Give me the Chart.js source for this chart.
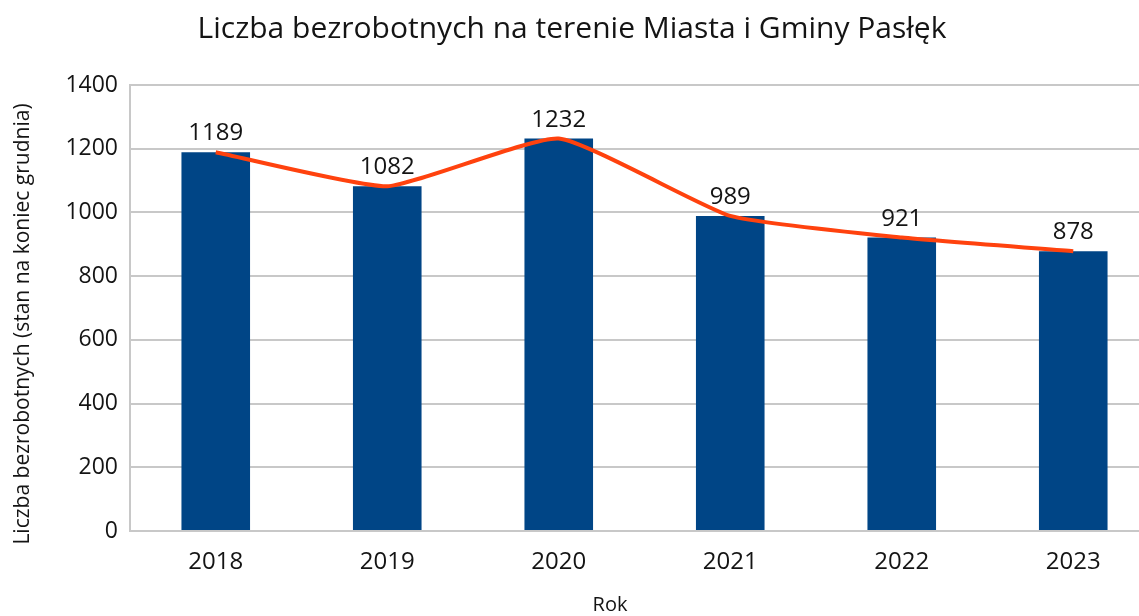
<!DOCTYPE html>
<html>
<head>
<meta charset="utf-8">
<script src="https://cdn.jsdelivr.net/npm/chart.js@4"></script>
<style>
  body { margin: 0; overflow: hidden; background: #fff; }
  #wrap { width: 1160px; height: 616px; }
</style>
</head>
<body>
<div id="wrap"><canvas id="wykres" width="1160" height="616"></canvas></div>
<script>
const lata = ['2018', '2019', '2020', '2021', '2022', '2023'];
const bezrobotni = [1189, 1082, 1232, 989, 921, 878];
const osY = [0, 200, 400, 600, 800, 1000, 1200, 1400];

const tytul = 'Liczba bezrobotnych na terenie Miasta i Gminy Pasłęk';
const tytulY = 'Liczba bezrobotnych (stan na koniec grudnia)';
const tytulX = 'Rok';

const czcionka = "'Open Sans', sans-serif";

// napisy: tytul, podpisy osi, wartosci nad linia
const napisy = {
  id: 'napisy',
  afterDatasetsDraw(chart) {
    const { ctx } = chart;
    const meta = chart.getDatasetMeta(0);
    ctx.save();
    ctx.fillStyle = '#141414';
    ctx.textAlign = 'center';

    ctx.font = '24px ' + czcionka;
    ctx.textBaseline = 'alphabetic';
    meta.data.forEach((pt, i) => {
      ctx.fillText(bezrobotni[i], pt.x, pt.y - 12);
    });

    ctx.font = '30px ' + czcionka;
    ctx.fillText(tytul, 572, 38);

    ctx.font = '20px ' + czcionka;
    ctx.textBaseline = 'middle';
    ctx.fillText(tytulX, 610, 605);

    ctx.font = '21px ' + czcionka;
    ctx.translate(23, 324);
    ctx.rotate(-Math.PI / 2);
    ctx.fillText(tytulY, 0, 0);
    ctx.restore();
  }
};

new Chart(document.getElementById('wykres'), {
  data: {
    labels: lata,
    datasets: [{
      type: 'line',
      data: bezrobotni,
      borderColor: '#ff420e',
      borderWidth: 4,
      pointRadius: 0,
      tension: 0.15,
      order: 0
    }, {
      type: 'bar',
      data: bezrobotni,
      backgroundColor: '#004586',
      barPercentage: 0.4,
      categoryPercentage: 1,
      order: 1
    }]
  },
  options: {
    animation: false,
    responsive: false,
    layout: { padding: { left: 0, right: 1, top: 85, bottom: 0 } },
    plugins: {
      legend: { display: false },
      tooltip: { enabled: false },
      title: { display: false }
    },
    scales: {
      x: {
        grid: { display: false, drawTicks: false },
        border: { color: '#c8c8c8', width: 2 },
        ticks: {
          color: '#141414',
          font: { family: czcionka, size: 24 },
          padding: 17,
          maxRotation: 0
        },
        afterFit(scale) { scale.height = 85; }
      },
      y: {
        min: 0,
        max: 1400,
        afterBuildTicks(scale) { scale.ticks = osY.map(v => ({ value: v })); },
        grid: { color: '#c8c8c8', lineWidth: 2, drawTicks: false },
        border: { color: '#c8c8c8', width: 2 },
        ticks: {
          color: '#141414',
          font: { family: czcionka, size: 23 },
          padding: 12,
          callback: v => String(v)
        },
        afterFit(scale) { scale.width = 130; }
      }
    }
  },
  plugins: [napisy]
});
</script>
</body>
</html>
